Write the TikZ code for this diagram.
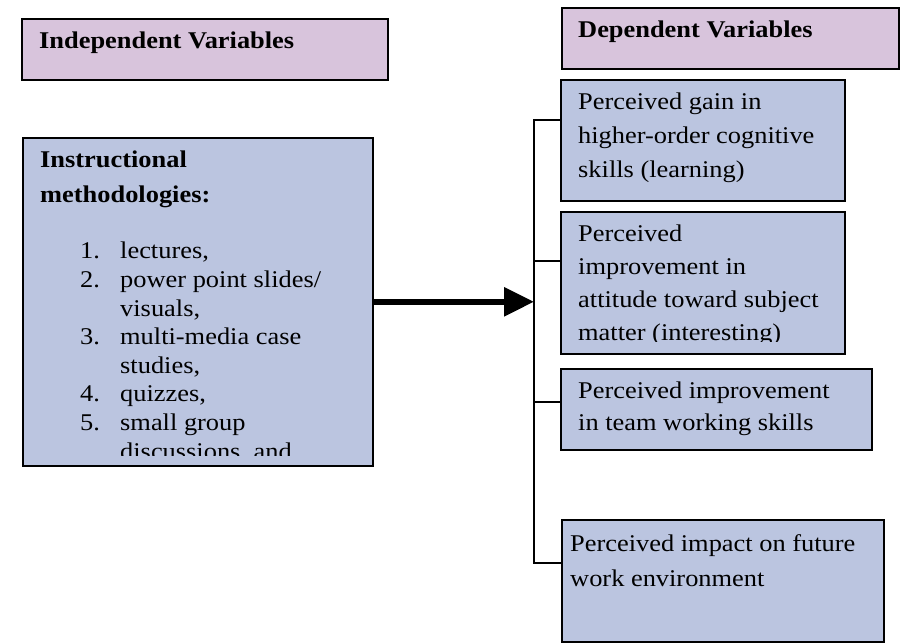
\documentclass[tikz,border=0pt]{standalone}
\usepackage{fontspec}
\setmainfont[FakeStretch=1.1]{Liberation Serif}
\usetikzlibrary{arrows.meta,shadows}
\definecolor{headfill}{RGB}{216,196,220}
\definecolor{varfill}{RGB}{187,197,224}
\begin{document}
\begin{tikzpicture}[x=1pt, y=-1pt, line join=miter,
  box/.style={draw=black, line width=1.6pt, inner sep=0pt, anchor=north west,
    drop shadow={shadow xshift=1.5pt, shadow yshift=-1.5pt, fill=black!20}},
  headbox/.style={box, fill=headfill},
  varbox/.style={box, fill=varfill},
  txt/.style={anchor=north west, inner sep=0pt, align=left},
  link/.style={line width=1.6pt}]
\useasboundingbox (0,0) rectangle (905,644);
% boxes
\node[headbox, minimum width=366pt, minimum height=61pt] (indep) at (21,18) {};
\node[headbox, minimum width=337pt, minimum height=61pt] (dep) at (561,7) {};
\node[varbox, minimum width=350pt, minimum height=328pt] (methods) at (22,137) {};
\node[varbox, minimum width=284pt, minimum height=121pt] (gain) at (560,79) {};
\node[varbox, minimum width=284pt, minimum height=142pt] (attitude) at (560,211) {};
\node[varbox, minimum width=311pt, minimum height=81pt] (team) at (560,368) {};
\node[varbox, minimum width=322pt, minimum height=122pt] (impact) at (561,519) {};
% texts
\node[txt, font=\fontsize{24}{30}\selectfont\bfseries] (indep-t) at (39,32) {Independent Variables};
\node[txt, font=\fontsize{24}{30}\selectfont\bfseries] (dep-t) at (578,21) {Dependent Variables};
\begin{scope}
  \clip (22,137) rectangle (372,455);
  \node[txt, font=\fontsize{24}{35}\selectfont\bfseries] (methods-t) at (40,151)
    {Instructional\\methodologies:};
  \node[txt, font=\fontsize{24}{28.6}\selectfont] (methods-l) at (80,242)
    {\makebox[40pt][l]{1.}lectures,\\
     \makebox[40pt][l]{2.}power point slides/\\
     \hspace*{40pt}visuals,\\
     \makebox[40pt][l]{3.}multi-media case\\
     \hspace*{40pt}studies,\\
     \makebox[40pt][l]{4.}quizzes,\\
     \makebox[40pt][l]{5.}small group\\
     \hspace*{40pt}discussions, and};
\end{scope}
\node[txt, font=\fontsize{24}{34}\selectfont] (gain-t) at (578,93)
  {Perceived gain in\\higher-order cognitive\\skills (learning)};
\begin{scope}
  \clip (560,211) rectangle (844,342);
  \node[txt, font=\fontsize{24}{33}\selectfont] (attitude-t) at (578,225)
    {Perceived\\improvement in\\attitude toward subject\\matter (interesting)};
\end{scope}
\node[txt, font=\fontsize{24}{32}\selectfont] (team-t) at (578,382)
  {Perceived improvement\\in team working skills};
\node[txt, font=\fontsize{24}{35}\selectfont] (impact-t) at (570,534)
  {Perceived impact on future\\work environment};
% bracket
\coordinate (t1) at (534,120);
\coordinate (t2) at (534,261);
\coordinate (t3) at (534,402);
\coordinate (t4) at (534,563);
\draw[link] (t1 -| gain.west) -- (t1) -- (t4) -- (t4 -| impact.west);
\draw[link] (t2) -- (t2 -| attitude.west);
\draw[link] (t3) -- (t3 -| team.west);
\draw[line width=6pt, -{Triangle[length=30pt, width=28pt]}] (methods.east) -- (methods.east -| t1);
\end{tikzpicture}
\end{document}
